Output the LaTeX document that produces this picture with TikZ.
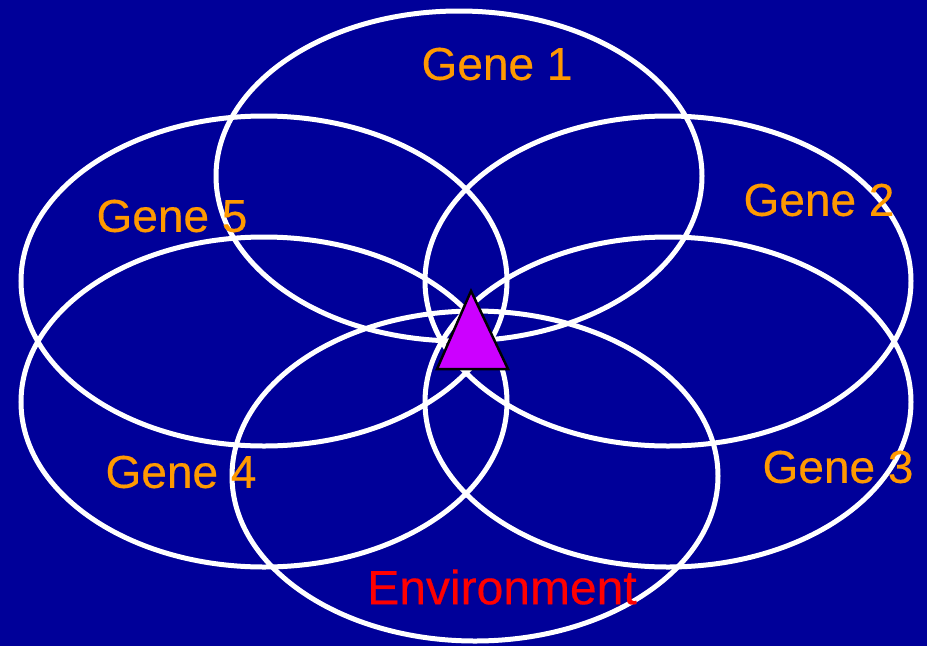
\documentclass[tikz,border=0pt]{standalone}
\usepackage{fontspec}
\setmainfont{Liberation Sans}
\newfontfamily\labelfont[BoldFont={Liberation Sans}, BoldFeatures={FakeBold=0.4}]{Liberation Sans}
\usetikzlibrary{positioning}
\definecolor{backblue}{RGB}{0, 0, 153}
\definecolor{geneorange}{RGB}{255, 153, 0}
\definecolor{envred}{RGB}{255, 0, 0}
\definecolor{markpurple}{RGB}{204, 0, 255}

\begin{document}
\begin{tikzpicture}[x=1pt, y=-1pt, ring/.style={draw=white, line width=5pt},
    genelabel/.style={text=geneorange, font=\labelfont\bfseries\fontsize{46}{50}\selectfont, inner sep=0pt}]
    \fill[backblue] (0,0) rectangle (927,646);
    \useasboundingbox (0,0) rectangle (927,646);

    % the six overlapping sets
    \draw[ring] (459,176) ellipse [x radius=243pt, y radius=165pt];
    \draw[ring] (668,281) ellipse [x radius=243pt, y radius=165pt];
    \draw[ring] (668,402) ellipse [x radius=243pt, y radius=165pt];
    \draw[ring] (475,476) ellipse [x radius=243pt, y radius=165pt];
    \draw[ring] (264,402) ellipse [x radius=243pt, y radius=165pt];
    \draw[ring] (264,281) ellipse [x radius=243pt, y radius=165pt];

    % shared marker in the middle
    \coordinate (top) at (471,291);
    \coordinate (left) at (437,369);
    \coordinate (right) at (508,369);
    \draw[fill=markpurple, line width=2.5pt, line join=miter] (top) -- (left) -- (right) -- cycle;

    \node[genelabel] (g1) at (497,64) {Gene 1};
    \node[genelabel] (g2) at (819,200) {Gene 2};
    \node[genelabel] (g3) at (838,467) {Gene 3};
    \node[genelabel] (g4) at (181,472) {Gene 4};
    \node[genelabel] (g5) at (172,216) {Gene 5};
    \node[genelabel, text=envred, font=\labelfont\bfseries\fontsize{48}{52}\selectfont] (env) at (502,587) {Environment};
\end{tikzpicture}
\end{document}
